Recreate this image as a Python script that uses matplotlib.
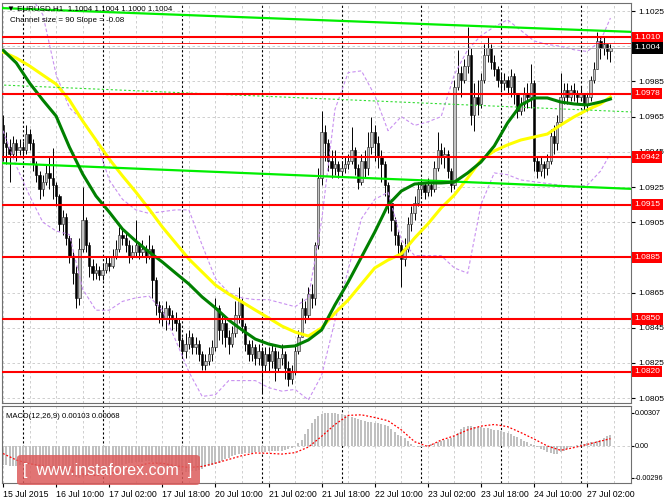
import matplotlib
matplotlib.use("Agg")
import matplotlib.pyplot as plt
from matplotlib.patches import FancyBboxPatch
import numpy as np

plt.rcParams['font.family'] = ['Liberation Sans', 'DejaVu Sans']

# prices are kept as pips above 1.0800
BASE = 1.0800
first_open = 160
close_pips = [
    150, 148, 144, 150, 146, 148, 146, 155, 150, 138,
    132, 124, 128, 133, 130, 126, 120, 104, 108, 96,
    86, 76, 62, 90, 106, 92, 80, 76, 78, 75,
    78, 82, 80, 86, 90, 98, 96, 92, 86, 88,
    92, 88, 90, 86, 90, 72, 58, 54, 50, 56,
    52, 50, 48, 38, 32, 36, 40, 34, 36, 30,
    24, 26, 30, 34, 56, 44, 48, 40, 36, 42,
    52, 60, 46, 36, 30, 34, 28, 32, 24, 30,
    26, 32, 22, 28, 30, 22, 16, 20, 32, 40,
    56, 52, 64, 62, 92, 130, 156, 150, 140, 136,
    138, 134, 136, 138, 140, 146, 136, 128, 140, 136,
    148, 156, 150, 142, 138, 126, 116, 106, 98, 92,
    84, 90, 104, 110, 116, 124, 126, 122, 126, 124,
    136, 146, 142, 144, 134, 126, 182, 190, 186, 194,
    200, 166, 176, 172, 186, 200, 204, 196, 192, 186,
    184, 186, 182, 188, 178, 168, 172, 178, 176, 184,
    140, 134, 138, 136, 140, 154, 150, 162, 176, 180,
    176, 180, 178, 176, 178, 172, 176, 186, 192, 208,
    204, 206, 202, 204]
high_pips = [
    166, 156, 152, 154, 152, 152, 151, 160, 158, 152,
    140, 134, 132, 138, 142, 147, 128, 121, 112, 110,
    98, 88, 80, 96, 125, 108, 94, 84, 82, 80,
    82, 86, 85, 90, 95, 102, 102, 99, 95, 92,
    106, 94, 95, 92, 98, 92, 74, 60, 58, 60,
    58, 55, 54, 50, 40, 42, 44, 42, 40, 38,
    32, 30, 34, 38, 62, 58, 52, 50, 44, 46,
    60, 68, 62, 48, 38, 38, 36, 36, 34, 34,
    34, 36, 34, 32, 36, 32, 26, 24, 36, 44,
    62, 60, 68, 70, 94, 136, 168, 160, 152, 146,
    146, 140, 140, 142, 144, 159, 148, 138, 144, 146,
    156, 165, 160, 154, 146, 140, 128, 118, 108, 100,
    94, 96, 108, 114, 120, 128, 130, 128, 130, 128,
    140, 156, 150, 148, 146, 136, 186, 203, 194, 198,
    216, 204, 184, 186, 190, 206, 211, 206, 200, 194,
    190, 190, 188, 192, 190, 178, 176, 182, 184, 195,
    186, 142, 142, 140, 144, 158, 160, 166, 190, 184,
    184, 183, 184, 180, 182, 178, 178, 188, 196, 213,
    210, 210, 206, 206]
low_pips = [
    140, 138, 128, 142, 140, 143, 141, 144, 146, 134,
    128, 118, 120, 126, 124, 118, 114, 100, 98, 92,
    82, 70, 56, 58, 88, 88, 74, 72, 73, 72,
    72, 76, 77, 79, 84, 88, 92, 88, 82, 84,
    86, 84, 85, 82, 84, 62, 52, 48, 46, 44,
    47, 44, 43, 34, 28, 28, 33, 30, 30, 26,
    21, 21, 24, 26, 32, 38, 36, 34, 30, 34,
    40, 48, 42, 32, 26, 26, 24, 24, 8, 20,
    20, 22, 15, 20, 24, 16, 12, 13, 18, 30,
    40, 48, 50, 56, 58, 90, 126, 140, 134, 130,
    132, 130, 132, 133, 135, 138, 132, 124, 126, 130,
    132, 144, 140, 136, 128, 120, 110, 100, 92, 86,
    68, 80, 88, 100, 106, 114, 120, 118, 120, 120,
    122, 134, 138, 136, 130, 122, 124, 180, 176, 184,
    190, 160, 157, 166, 170, 184, 196, 192, 188, 182,
    180, 180, 178, 176, 172, 164, 166, 168, 170, 170,
    134, 130, 131, 130, 132, 138, 144, 146, 160, 172,
    172, 174, 174, 172, 174, 168, 168, 174, 184, 192,
    198, 200, 198, 196]

# indicator lines read every 4 bars
line_bars = list(range(0, 184, 4)) + [183]
ma_green = [202.8, 195.5, 184.1, 174.4, 165.3, 147.7, 132.4, 119.9, 110.8, 101.1,
            94.3, 88.1, 82.4, 76.1, 69.9, 62.5, 56.3, 49.4, 43.8, 38.6, 35.8, 34.1,
            34.7, 38.1, 43.8, 58.0, 71.0, 85.2, 99.4, 114.8, 122.7, 126.7, 127.3,
            127.3, 127.8, 133.0, 139.2, 148.3, 161.4, 171.6, 175.6, 175.6, 173.3,
            172.2, 171.6, 173.3, 175.0]
ma_yellow = [201.7, 198.3, 193.8, 188.6, 183.5, 174.4, 162.5, 151.7, 140.9, 131.3,
             122.2, 112.5, 102.3, 93.2, 84.1, 76.7, 69.3, 64.2, 59.7, 55.1, 50.6,
             46.0, 42.6, 40.3, 44.9, 53.4, 60.8, 69.9, 79.0, 83.5, 87.0, 96.0,
             104.0, 113.1, 120.5, 130.1, 140.3, 145.5, 148.9, 151.7, 153.4, 155.1,
             160.2, 164.8, 168.8, 172.2, 176.1]
band_upper = [248, 243, 234, 223, 189, 170, 163, 152, 129, 118, 112, 110, 111, 112,
              112, 92, 73, 65, 62, 61, 61, 59, 57, 62, 106, 169, 190, 191, 177, 157,
              165, 160, 162, 165, 189, 203, 211, 216, 220, 214, 208, 206, 205, 203,
              202, 208, 221]
band_lower = [157, 137, 120, 105, 100, 98, 67, 55, 55, 60, 62, 63, 55, 38, 20, 6,
              7, 15, 15, 15, 11, 9, 10, 4, 18, 49, 78, 107, 118, 122, 95, 86, 86,
              86, 79, 76, 115, 133, 132, 129, 128, 127, 126, 125, 126, 134, 144]

# regression channel end points
chan_bars = [-1, 190]
chan_upper = [226.7, 213.1]
chan_mid = [183.0, 167.6]
chan_lower = [138.6, 123.9]

levels_red = [1.1010, 1.0978, 1.0942, 1.0915, 1.0885, 1.0850, 1.0820]
price_ticks = [1.0805, 1.0825, 1.0845, 1.0865, 1.0885, 1.0905, 1.0925,
               1.0945, 1.0965, 1.0985, 1.1005, 1.1025]
hidden_ticks = [1.0885, 1.1005]
bid, ask = 1.1004, 1.10066

day_starts = [6, 30, 54, 78, 102, 126, 150, 174]
time_ticks = list(range(0, 184, 16))
time_labels = ["15 Jul 2015", "16 Jul 10:00", "17 Jul 02:00", "17 Jul 18:00",
               "20 Jul 10:00", "21 Jul 02:00", "21 Jul 18:00", "22 Jul 10:00",
               "23 Jul 02:00", "23 Jul 18:00", "24 Jul 10:00", "27 Jul 02:00"]

# MACD main (histogram) per bar and signal every 4 bars, units of 1e-5
macd_hist = [
    -175, -178, -182, -185, -183, -180, -176, -172,
    -170, -180, -190, -200, -205, -208, -210, -215,
    -225, -240, -250, -262, -272, -282, -292, -296,
    -285, -275, -268, -262, -255, -248, -240, -230,
    -220, -210, -198, -186, -176, -168, -162, -158,
    -152, -148, -145, -142, -140, -148, -162, -175,
    -186, -195, -205, -212, -218, -226, -235, -240,
    -238, -234, -228, -220, -212, -200, -190, -180,
    -170, -155, -140, -125, -110, -95, -85, -78,
    -72, -68, -65, -62, -60, -58, -55, -52,
    -50, -48, -46, -44, -42, -40, -30, -15,
    0, 25, 60, 110, 160, 210, 250, 280,
    300, 307, 307, 305, 303, 300, 296, 290,
    282, 270, 258, 248, 240, 232, 226, 220,
    215, 212, 208, 200, 185, 160, 130, 100,
    90, 70, 45, 20, 2, -5, -6, -3,
    8, 18, 30, 40, 50, 60, 68, 75,
    95, 125, 160, 180, 185, 183, 180, 178,
    175, 170, 165, 160, 152, 145, 138, 130,
    125, 110, 95, 80, 65, 50, 35, 20,
    5, -10, -25, -40, -55, -68, -78, -72,
    -58, -42, -25, -12, 0, 8, 14, 20,
    26, 34, 40, 48, 60, 75, 90, 103]
macd_signal = [-70, -130, -165, -185, -200, -225, -260, -275, -260, -225, -190, -160,
               -160, -185, -200, -190, -160, -125, -90, -65, -68, -75, -62, -10,
               90, 200, 285, 290, 265, 235, 150, 40, -5, 55, 95, 150, 185, 200,
               180, 125, 65, 0, -40, -15, 15, 45, 68]


def px(p):
    return BASE + np.asarray(p, dtype=float) / 10000.0


close = px(close_pips)
high = px(high_pips)
low = px(low_pips)
opens = np.r_[px(first_open), close[:-1]]
x = np.arange(len(close))

fig = plt.figure(figsize=(6.64, 4.98), dpi=100)
ax = fig.add_axes([2 / 664, 95 / 498, 629 / 664, 400 / 498])
axm = fig.add_axes([2 / 664, 15 / 498, 629 / 664, 77 / 498])

grid_kw = dict(color='#c8c8c8', lw=0.6, dashes=(3, 3), zorder=0)
for a in (ax, axm):
    for b in range(0, 190, 8):
        a.axvline(b, **grid_kw)
    for d in day_starts:
        a.axvline(d, color='black', lw=0.8, dashes=(2, 2), zorder=0.5)
    a.set_xlim(-0.3, 189.2)
    for s in a.spines.values():
        s.set_color('#707070')
        s.set_linewidth(0.8)
for lv in price_ticks:
    ax.axhline(lv, **grid_kw)
axm.axhline(0, **grid_kw)

# candles
up = close >= opens
ax.vlines(x, low, high, color='black', lw=0.7, zorder=2)
body = np.maximum(np.abs(close - opens), 0.00003)
ax.bar(x[up], body[up], bottom=opens[up], width=0.7, color='#c4c4c4',
       edgecolor='#202020', lw=0.4, zorder=2.1)
ax.bar(x[~up], body[~up], bottom=close[~up], width=0.7, color='black',
       edgecolor='black', lw=0.4, zorder=2.1)

# indicators
band_kw = dict(color='#c890f0', lw=0.8, dashes=(3, 2), zorder=2.5)
ax.plot(line_bars, px(band_upper), **band_kw)
ax.plot(line_bars, px(band_lower), **band_kw)
ax.plot(line_bars, px(ma_yellow), color='#ffff00', lw=2.2, zorder=3)
ax.plot(line_bars, px(ma_green), color='#008000', lw=2.2, zorder=3.1)
ax.plot(chan_bars, px(chan_upper), color='#00ee00', lw=1.6, zorder=3)
ax.plot(chan_bars, px(chan_lower), color='#00ee00', lw=1.6, zorder=3)
ax.plot(chan_bars, px(chan_mid), color='#33dd33', lw=0.8, dashes=(2, 2), zorder=3)

for lv in levels_red:
    ax.axhline(lv, color='#ff0000', lw=1.5, zorder=4)
ax.axhline(ask, color='#ff0000', lw=0.6, zorder=4)
ax.axhline(bid, color='#a0a0a0', lw=0.6, zorder=4)

ax.set_ylim(1.080227, 1.102955)
ax.yaxis.tick_right()
ax.set_yticks(price_ticks)
ax.set_yticklabels(["" if v in hidden_ticks else f"{v:.4f}" for v in price_ticks])
ax.tick_params(axis='y', labelsize=6, length=3, pad=2, colors='black')
ax.tick_params(axis='x', bottom=False, labelbottom=False)

ytr = ax.get_yaxis_transform()
box_kw = dict(transform=ytr, fontsize=6, color='white', va='center', ha='left',
              clip_on=False, zorder=6)
for lv in levels_red:
    ax.text(1.0055, lv, f"{lv:.4f}", bbox=dict(boxstyle='square,pad=0.25',
            fc='#ff0000', ec='none'), **box_kw)
ax.text(1.0055, bid, f"{bid:.4f}", bbox=dict(boxstyle='square,pad=0.25',
        fc='black', ec='none'), **box_kw)

ax.text(0.008, 0.985, "\u25bc EURUSD,H1  1.1004 1.1004 1.1000 1.1004",
        transform=ax.transAxes, fontsize=5.8, va='center', ha='left', zorder=7)
ax.text(0.012, 0.955, "Channel size = 90 Slope = -0.08",
        transform=ax.transAxes, fontsize=5.8, va='center', ha='left', zorder=7)

# MACD panel
axm.bar(x, np.asarray(macd_hist) / 1e5, width=0.6, color='#c0c0c0', zorder=1)
axm.plot(line_bars, np.asarray(macd_signal) / 1e5, color='#ff0000', lw=0.9,
         dashes=(1.5, 1.5), zorder=2)
axm.set_ylim(-0.003442, 0.003721)
axm.yaxis.tick_right()
axm.set_yticks([0.00307, 0.0, -0.00296])
axm.set_yticklabels(["0.00307", "0.00", "-0.00296"])
axm.tick_params(axis='y', labelsize=5.2, length=2, pad=0.5)
axm.set_xticks(time_ticks)
axm.set_xticklabels(time_labels, ha='left')
axm.tick_params(axis='x', labelsize=6.3, length=3, pad=2)
axm.text(0.006, 0.86, "MACD(12,26,9) 0.00103 0.00068", transform=axm.transAxes,
         fontsize=5.6, va='center', ha='left')

# watermark
wm = FancyBboxPatch((17 / 664, 13 / 498), 183 / 664, 30 / 498,
                    boxstyle='round,pad=0,rounding_size=0.006',
                    transform=fig.transFigure, fc='#dc5c5c', ec='none',
                    alpha=0.85, zorder=10)
fig.patches.append(wm)
fig.text(108 / 664, 28 / 498, "[  www.instaforex.com  ]", color='white',
         fontsize=11.5, ha='center', va='center', zorder=11)

fig.savefig("out.png", dpi=100)
